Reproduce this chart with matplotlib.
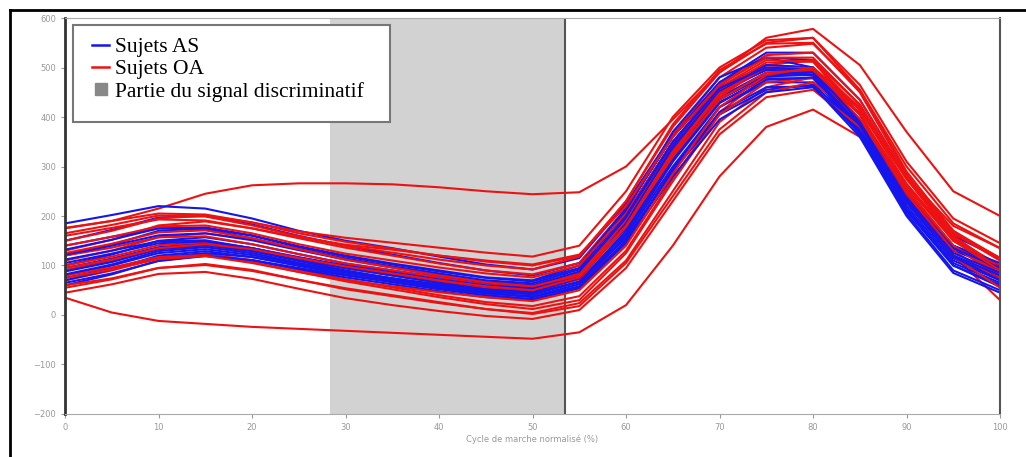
import matplotlib.pyplot as plt
from matplotlib.lines import Line2D
from matplotlib.patches import Rectangle

# cycle (%) sampled every 5 %
cycle = [0, 5, 10, 15, 20, 25, 30, 35, 40, 45, 50, 55, 60, 65, 70, 75, 80, 85, 90, 95, 100]

sujets_as = [
    [185, 202, 220, 215, 195, 170, 150, 135, 118, 102, 92, 115, 225, 365, 470, 530, 530, 435, 280, 160, 115],
    [150, 172, 197, 200, 183, 160, 140, 122, 105, 90, 80, 105, 215, 360, 470, 520, 515, 405, 250, 135, 90],
    [120, 142, 170, 175, 160, 137, 118, 102, 88, 75, 68, 95, 205, 350, 460, 505, 500, 390, 230, 120, 80],
    [100, 122, 150, 157, 143, 123, 104, 90, 76, 64, 58, 85, 190, 335, 450, 495, 490, 380, 220, 110, 70],
    [90, 110, 135, 143, 130, 111, 94, 80, 66, 55, 50, 75, 180, 325, 440, 490, 485, 375, 215, 105, 65],
    [80, 100, 125, 133, 121, 103, 86, 72, 58, 47, 42, 68, 170, 315, 430, 478, 478, 370, 210, 100, 57],
    [70, 92, 120, 129, 117, 99, 82, 68, 55, 44, 38, 62, 160, 300, 420, 470, 470, 365, 205, 90, 50],
    [60, 82, 110, 120, 110, 93, 76, 62, 48, 36, 30, 55, 150, 290, 410, 460, 462, 360, 200, 85, 45],
    [112, 130, 149, 151, 135, 115, 98, 84, 70, 58, 52, 82, 195, 345, 455, 498, 492, 383, 226, 115, 77],
    [132, 152, 175, 177, 161, 139, 120, 104, 90, 76, 70, 100, 215, 360, 462, 505, 500, 395, 240, 130, 95],
    [95, 114, 137, 145, 135, 117, 100, 86, 72, 60, 54, 78, 175, 320, 435, 485, 490, 395, 250, 140, 97],
    [75, 94, 117, 125, 117, 101, 86, 74, 62, 50, 44, 66, 155, 290, 405, 455, 465, 380, 245, 140, 105],
    [140, 158, 175, 173, 155, 133, 114, 98, 84, 70, 64, 92, 210, 370, 480, 520, 500, 385, 230, 115, 73],
    [105, 124, 145, 149, 135, 115, 96, 80, 65, 52, 46, 74, 185, 340, 452, 496, 485, 370, 212, 100, 61],
    [88, 107, 133, 141, 129, 109, 90, 74, 58, 44, 36, 58, 150, 295, 420, 475, 480, 385, 242, 135, 95],
    [65, 84, 109, 119, 111, 95, 80, 66, 52, 40, 32, 54, 145, 280, 395, 450, 460, 370, 230, 120, 80],
    [122, 140, 161, 165, 151, 131, 112, 96, 80, 66, 60, 88, 200, 350, 458, 500, 495, 390, 235, 125, 85],
    [82, 102, 129, 137, 125, 105, 88, 74, 60, 48, 42, 66, 165, 310, 428, 482, 485, 383, 230, 118, 70],
]

sujets_oa = [
    [175, 190, 215, 245, 262, 266, 266, 264, 258, 250, 244, 248, 300, 395, 490, 560, 578, 505, 370, 250, 200],
    [35, 5, -12, -18, -24, -28, -32, -36, -40, -44, -48, -35, 20, 140, 280, 380, 415, 360, 240, 120, 30],
    [150, 170, 195, 201, 187, 165, 148, 134, 120, 108, 100, 120, 230, 380, 490, 550, 560, 465, 310, 195, 145],
    [130, 152, 181, 189, 175, 155, 136, 120, 104, 90, 82, 105, 215, 365, 480, 540, 548, 455, 300, 185, 135],
    [110, 130, 157, 165, 153, 133, 114, 98, 82, 68, 60, 85, 195, 345, 465, 525, 530, 435, 280, 165, 115],
    [90, 108, 133, 139, 125, 105, 86, 70, 54, 40, 32, 55, 160, 310, 440, 505, 515, 425, 275, 155, 100],
    [70, 90, 115, 123, 111, 91, 72, 56, 40, 26, 18, 38, 130, 275, 410, 480, 495, 415, 275, 165, 115],
    [55, 72, 95, 103, 91, 71, 52, 38, 24, 12, 4, 24, 110, 250, 390, 460, 480, 410, 280, 180, 135],
    [176, 190, 205, 203, 187, 169, 156, 146, 136, 126, 118, 140, 250, 400, 500, 555, 560, 455, 290, 170, 115],
    [165, 182, 201, 199, 181, 159, 140, 126, 112, 100, 92, 118, 230, 385, 495, 548, 550, 450, 285, 160, 95],
    [120, 136, 157, 159, 143, 123, 104, 90, 76, 64, 56, 82, 190, 340, 455, 510, 512, 415, 265, 150, 100],
    [100, 118, 141, 147, 135, 115, 96, 80, 66, 54, 46, 72, 178, 325, 445, 498, 500, 405, 255, 140, 85],
    [80, 96, 117, 121, 107, 87, 68, 52, 36, 22, 12, 30, 125, 270, 405, 470, 480, 395, 255, 140, 80],
    [60, 74, 95, 101, 89, 71, 54, 40, 26, 12, 2, 18, 105, 240, 375, 450, 470, 395, 265, 155, 95],
    [45, 62, 83, 87, 73, 53, 34, 20, 8, -2, -8, 10, 95, 230, 365, 440, 455, 380, 250, 140, 75],
    [140, 158, 179, 181, 165, 143, 124, 110, 96, 84, 76, 100, 205, 350, 460, 515, 512, 405, 245, 130, 70],
    [95, 112, 135, 143, 133, 115, 98, 84, 70, 58, 50, 76, 180, 330, 448, 500, 498, 395, 235, 118, 55],
    [160, 176, 193, 191, 175, 157, 142, 132, 120, 110, 102, 122, 220, 360, 465, 520, 520, 425, 275, 165, 110],
    [75, 92, 113, 119, 105, 87, 70, 58, 46, 36, 28, 50, 140, 285, 420, 485, 500, 420, 280, 170, 110],
    [125, 144, 167, 171, 155, 133, 112, 96, 80, 66, 58, 80, 180, 320, 435, 490, 495, 405, 260, 150, 90],
]

zone_discr = (28.3, 53.5)
x_ticks = [0, 10, 20, 30, 40, 50, 60, 70, 80, 90, 100]
y_ticks = [-200, -100, 0, 100, 200, 300, 400, 500, 600]

fig = plt.figure(figsize=(10.26, 4.57), dpi=100)
ax = fig.add_axes([0.0634, 0.0941, 0.9113, 0.8665])

ax.axvspan(zone_discr[0], zone_discr[1], color='#d2d2d2', lw=0, zorder=0)
ax.axvline(zone_discr[1], color='#555555', lw=1.5, zorder=1)

# interleave the two groups so neither sits fully on top
n = max(len(sujets_as), len(sujets_oa))
for i in range(n):
    if i < len(sujets_oa):
        ax.plot(cycle, sujets_oa[i], color='#ee1111', lw=1.5, zorder=2,
                solid_joinstyle='round')
    if i < len(sujets_as):
        ax.plot(cycle, sujets_as[i], color='#1515ee', lw=1.5, zorder=2,
                solid_joinstyle='round')

ax.set_xlim(0, 100)
ax.set_ylim(-200, 600)
ax.set_xticks(x_ticks)
ax.set_yticks(y_ticks)
ax.tick_params(labelsize=6, colors='#999999', length=3)
ax.set_xlabel("Cycle de marche normalisé (%)", fontsize=6, color='#999999', labelpad=2)

for s in ['top', 'bottom']:
    ax.spines[s].set_color('#aaaaaa')
ax.spines['left'].set_color('#333333')
ax.spines['left'].set_linewidth(2)
ax.spines['right'].set_color('#555555')
ax.spines['right'].set_linewidth(1.5)

# legend box (drawn separately: it is wider than its text)
fig.add_artist(Rectangle((73 / 1026, 1 - 122 / 457), 317 / 1026, 97 / 457,
                         transform=fig.transFigure, facecolor='white',
                         edgecolor='#777777', lw=1.5, zorder=5))

handles = [
    Line2D([], [], color='#1515ee', lw=1.8),
    Line2D([], [], color='#ee1111', lw=1.8),
    Line2D([], [], color='#888888', marker='s', ls='none', markersize=8),
]
labels = ["Sujets AS", "Sujets OA", "Partie du signal discriminatif"]
leg = fig.legend(handles, labels, loc='upper left', bbox_to_anchor=(92 / 1026, 1 - 37 / 457),
                 bbox_transform=fig.transFigure,
                 prop={'family': 'Liberation Serif', 'size': 15.5},
                 frameon=False, handlelength=0.8, handletextpad=0.25,
                 labelspacing=0.1, borderpad=0, borderaxespad=0)
leg.set_zorder(6)

# outer frame of the figure (left and top edges visible)
fig.add_artist(Line2D([10 / 1026, 10 / 1026], [0, 1 - 10 / 457], color='black', lw=2,
                      transform=fig.transFigure))
fig.add_artist(Line2D([10 / 1026, 1], [1 - 10 / 457, 1 - 10 / 457], color='black', lw=2,
                      transform=fig.transFigure))

fig.savefig("out.png", dpi=100)
